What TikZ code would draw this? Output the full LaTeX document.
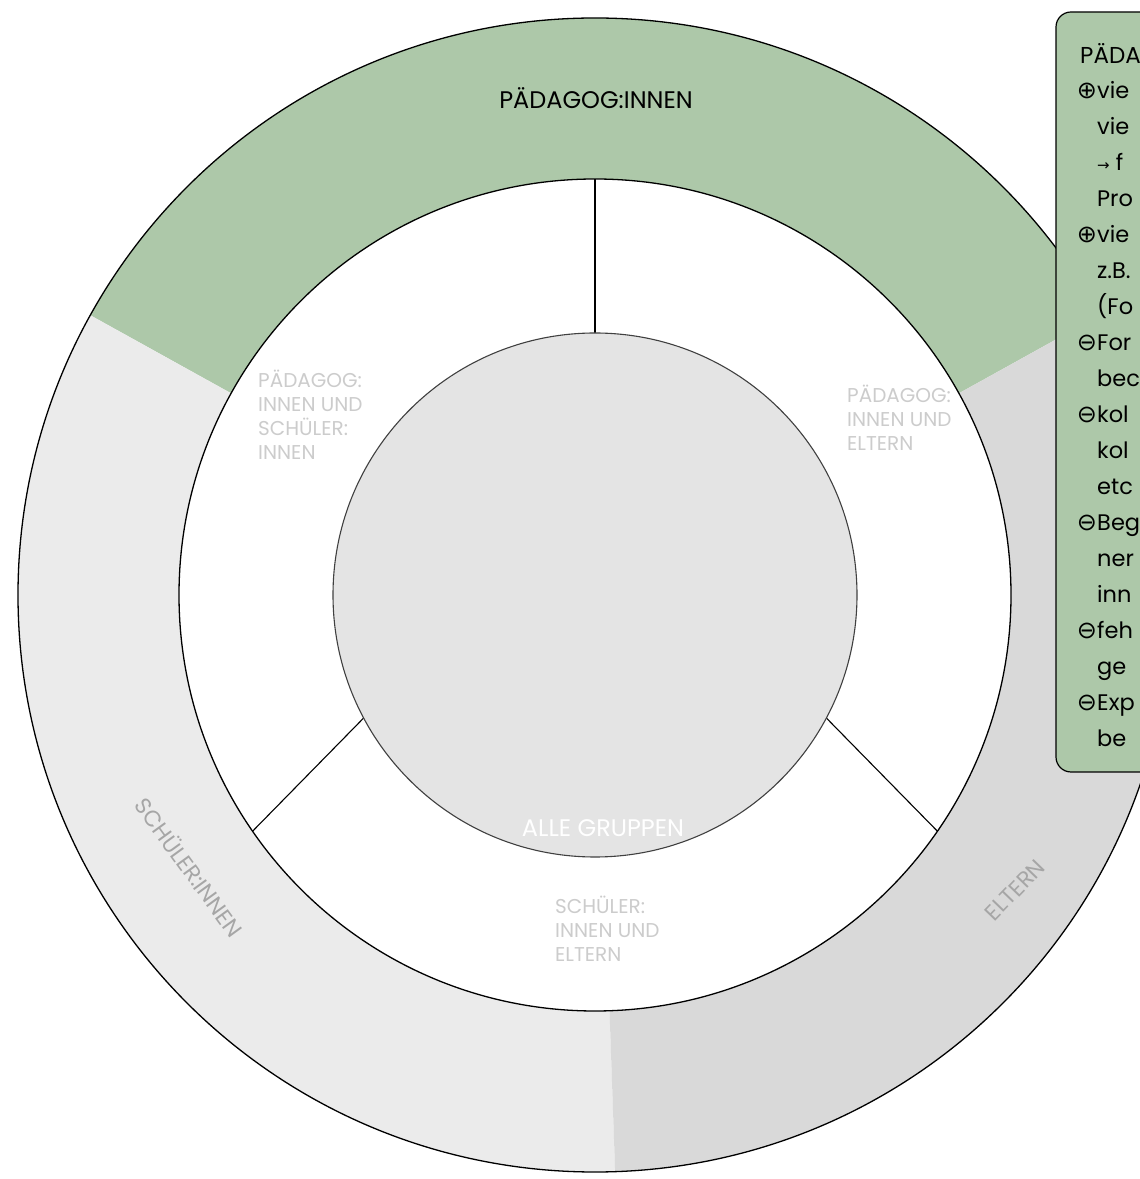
\documentclass[tikz,border=0pt]{standalone}
\usepackage{fontspec}
\setmainfont{Poppins}
\newfontfamily\symfont{DejaVu Sans}
\definecolor{sagegreen}{HTML}{ADC8A9}
\definecolor{palegrey}{HTML}{EBEBEB}
\definecolor{midgrey}{HTML}{D9D9D9}
\definecolor{coregrey}{HTML}{E4E4E4}
\definecolor{pairgrey}{HTML}{CCCCCC}
\definecolor{arcgrey}{HTML}{A6A6A6}
\newcommand\tgplus{{\symfont ⊕}}
\newcommand\tgminus{{\symfont ⊖}}
\begin{document}
\begin{tikzpicture}[x=1pt,y=1pt,
  pairlabel/.style={text=pairgrey, font=\fontsize{20}{24}\selectfont, align=left, anchor=north west, inner sep=0pt},
  arclabel/.style={text=arcgrey, font=\fontsize{22.5}{26}\selectfont, inner sep=0pt},
  biglabel/.style={font=\fontsize{24}{28}\selectfont, inner sep=0pt},
  listline/.style={anchor=base west, inner sep=0pt, font=\fontsize{22.5}{26}\selectfont},
  listmark/.style={anchor=base, inner sep=0pt, font=\fontsize{24}{26}\selectfont},
  ring/.style={line width=1.3pt, draw=black}]
\useasboundingbox (0,0) rectangle (1140,1179);
\clip (0,0) rectangle (1140,1179);
\fill[white] (0,0) rectangle (1140,1179);

\begin{scope}[shift={(595,584)}]
  % outer ring split into three groups
  \fill[sagegreen] (29:577pt) arc[start angle=29, end angle=151, radius=577pt]
        -- (151:416pt) arc[start angle=151, end angle=29, radius=416pt] -- cycle;
  \fill[palegrey] (151:577pt) arc[start angle=151, end angle=272, radius=577pt]
        -- (272:416pt) arc[start angle=272, end angle=151, radius=416pt] -- cycle;
  \fill[midgrey] (272:577pt) arc[start angle=272, end angle=389, radius=577pt]
        -- (389:416pt) arc[start angle=389, end angle=272, radius=416pt] -- cycle;
  \draw[ring] (0,0) circle[radius=577pt];
  % middle ring of pairwise overlaps
  \draw[ring, fill=white] (0,0) circle[radius=416pt];
  \coordinate (a1) at (90:262pt);   \coordinate (a2) at (90:416pt);
  \coordinate (b1) at (208:262pt);  \coordinate (b2) at (214.6:416pt);
  \coordinate (c1) at (332:262pt);  \coordinate (c2) at (325.4:416pt);
  \draw[line width=1.1pt] (a1) -- (a2);
  \draw[line width=1.1pt] (b1) -- (b2);
  \draw[line width=1.1pt] (c1) -- (c2);
  % common core
  \draw[line width=1.1pt, draw=black!75, fill=coregrey] (0,0) circle[radius=262pt];
\end{scope}

\node[biglabel] (ped) at (596,1081) {PÄDAGOG:INNEN};
\node[biglabel, text=white] (all) at (603,351) {ALLE GRUPPEN};
\node[arclabel, rotate=-54] (stu) at (190,312) {SCHÜLER:INNEN};
\node[arclabel, rotate=46] (par) at (1015,289) {ELTERN};

\node[pairlabel] (ps) at (258,809) {PÄDAGOG:\\INNEN UND\\SCHÜLER:\\INNEN};
\node[pairlabel] (pe) at (847,794) {PÄDAGOG:\\INNEN UND\\ELTERN};
\node[pairlabel] (se) at (555,283) {SCHÜLER:\\INNEN UND\\ELTERN};

% side panel
\draw[line width=1.2pt, fill=sagegreen, rounded corners=15pt] (1056,1167) rectangle (1220,407);
\node[anchor=base west, inner sep=0pt, font=\fontsize{23}{26}\selectfont] (hd) at (1080,1115) {PÄDA};
\node[listmark] (m1) at (1087,1080) {\tgplus};
\node[listline] (l1) at (1097,1080) {vie};
\node[listline] (l2) at (1097,1044) {vie};
\node[listline] (l3) at (1097,1008) {{\symfont\fontsize{15}{16}\selectfont →} f};
\node[listline] (l4) at (1097,972) {Pro};
\node[listmark] (m5) at (1087,936) {\tgplus};
\node[listline] (l5) at (1097,936) {vie};
\node[listline] (l6) at (1097,900) {z.B.};
\node[listline] (l7) at (1097,864) {(Fo};
\node[listmark] (m8) at (1087,828) {\tgminus};
\node[listline] (l8) at (1097,828) {For};
\node[listline] (l9) at (1097,792) {bec};
\node[listmark] (m10) at (1087,756) {\tgminus};
\node[listline] (l10) at (1097,756) {kol};
\node[listline] (l11) at (1097,720) {kol};
\node[listline] (l12) at (1097,684) {etc};
\node[listmark] (m13) at (1087,648) {\tgminus};
\node[listline] (l13) at (1097,648) {Beg};
\node[listline] (l14) at (1097,612) {ner};
\node[listline] (l15) at (1097,576) {inn};
\node[listmark] (m16) at (1087,540) {\tgminus};
\node[listline] (l16) at (1097,540) {feh};
\node[listline] (l17) at (1097,504) {ge};
\node[listmark] (m18) at (1087,468) {\tgminus};
\node[listline] (l18) at (1097,468) {Exp};
\node[listline] (l19) at (1097,432) {be};
\end{tikzpicture}
\end{document}
